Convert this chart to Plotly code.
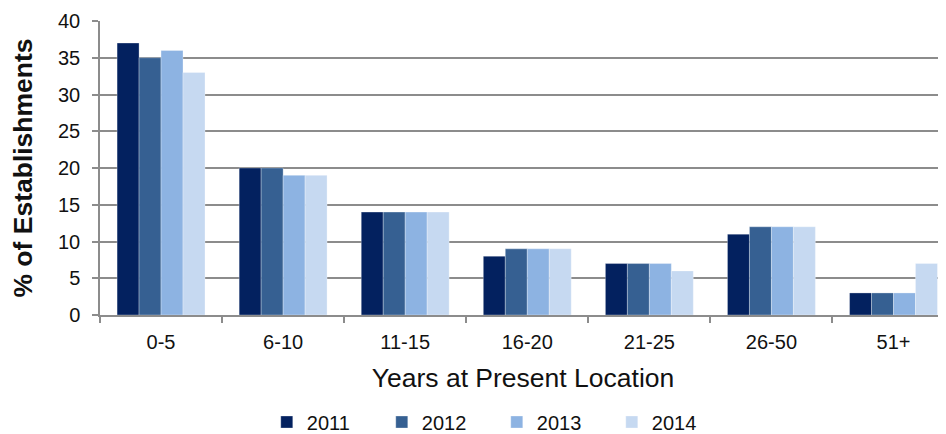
import plotly.graph_objects as go

categories = ["0-5", "6-10", "11-15", "16-20", "21-25", "26-50", "51+"]
years = ["2011", "2012", "2013", "2014"]
values_2011 = [37, 20, 14, 8, 7, 11, 3]
values_2012 = [35, 20, 14, 9, 7, 12, 3]
values_2013 = [36, 19, 14, 9, 7, 12, 3]
values_2014 = [33, 19, 14, 9, 6, 12, 7]
series = [values_2011, values_2012, values_2013, values_2014]
colors = ["#03215F", "#366092", "#8DB3E2", "#C6D9F1"]

fig = go.Figure()
for name, vals, col in zip(years, series, colors):
    fig.add_trace(go.Bar(
        x=categories, y=vals, name=name,
        marker=dict(color=col, line=dict(color="rgba(255,255,255,0.6)", width=0.5)),
    ))

font_family = "Liberation Sans, Arial, sans-serif"
fig.update_layout(
    width=938, height=426,
    margin=dict(l=92, r=0, t=13, b=119, autoexpand=False),
    paper_bgcolor="white", plot_bgcolor="white",
    barmode="group", bargap=0.28, bargroupgap=0,
    font=dict(family=font_family, size=20, color="#111111"),
    showlegend=True,
    legend=dict(orientation="h", x=0.469, xanchor="center", y=-0.364, yanchor="middle",
                font=dict(size=20), entrywidth=70, entrywidthmode="pixels",
                itemwidth=30, traceorder="normal"),
    xaxis=dict(
        range=[-0.5, 6.43], automargin=False,
        showline=True, linecolor="#8c8c8c", linewidth=1.5,
        ticks="outside", tickson="boundaries", ticklen=6, tickcolor="#8c8c8c", tickwidth=1.5,
        ticklabelstandoff=8,
        showgrid=False,
        tickfont=dict(size=20),
        title=dict(text="Years at Present Location", font=dict(size=26.5), standoff=17),
    ),
    yaxis=dict(
        range=[0, 40], dtick=5, automargin=False,
        showline=True, linecolor="#8c8c8c", linewidth=1.5,
        ticks="outside", ticklen=6, tickcolor="#8c8c8c", tickwidth=1.5,
        ticklabelstandoff=8,
        showgrid=True, gridcolor="#8c8c8c", gridwidth=1.5,
        zeroline=False,
        tickfont=dict(size=20),
        title=dict(text="<b>% of Establishments</b>", font=dict(size=26.5), standoff=18),
    ),
)

fig.write_html("out.html")
